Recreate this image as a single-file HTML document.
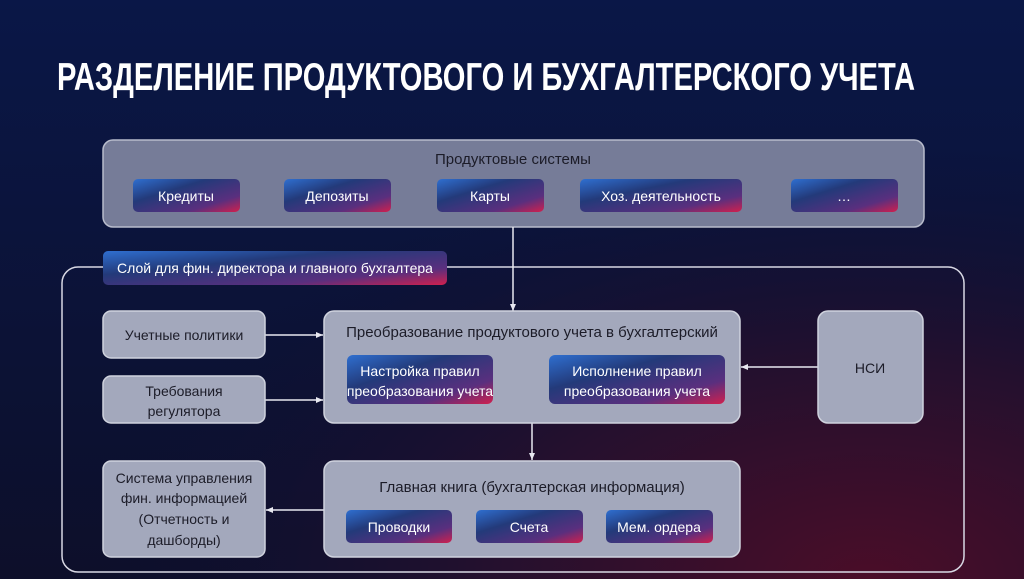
<!DOCTYPE html>
<html><head><meta charset="utf-8"><style>
html,body{margin:0;padding:0;width:1024px;height:579px;overflow:hidden;background:#0c1033}
svg{display:block}
text{font-family:"Liberation Sans","Noto Sans CJK SC",sans-serif}
</style></head><body>
<svg width="1024" height="579" viewBox="0 0 1024 579" xmlns="http://www.w3.org/2000/svg">
<defs>
<radialGradient id="bg1" cx="0.85" cy="1" r="0.75">
<stop offset="0" stop-color="#4a0d28"/><stop offset="0.5" stop-color="#24102e"/><stop offset="1" stop-color="#0c1033" stop-opacity="0"/>
</radialGradient>
<linearGradient id="bg0" x1="0" y1="0" x2="0" y2="1">
<stop offset="0" stop-color="#0a1747"/><stop offset="1" stop-color="#0d0f2a"/>
</linearGradient>
<linearGradient id="chip" x1="0" y1="0" x2="1" y2="1">
<stop offset="0" stop-color="#2f6fd0"/><stop offset="0.35" stop-color="#233a7a"/><stop offset="0.75" stop-color="#5a2f7e"/><stop offset="1" stop-color="#d0204e"/>
</linearGradient>
<marker id="ar" markerWidth="8" markerHeight="8" refX="7" refY="4" orient="auto" markerUnits="userSpaceOnUse">
<path d="M0,1 L7,4 L0,7 Z" fill="#e8e8f0"/></marker>
</defs>
<rect width="1024" height="579" fill="url(#bg0)"/>
<rect width="1024" height="579" fill="url(#bg1)"/>

<text x="57" y="90" font-size="39" font-weight="bold" fill="#fff" textLength="858" lengthAdjust="spacingAndGlyphs">РАЗДЕЛЕНИЕ ПРОДУКТОВОГО И БУХГАЛТЕРСКОГО УЧЕТА</text>

<rect x="62" y="267" width="902" height="305" rx="16" fill="none" stroke="#d8d8e4" stroke-width="1.5"/>

<rect x="103" y="140" width="821" height="87" rx="10" fill="#767c98" stroke="#b8bccc" stroke-width="1.5"/>
<text x="513" y="164" font-size="15" fill="#1c1c28" text-anchor="middle">Продуктовые системы</text>
<g font-size="14" fill="#fff" text-anchor="middle">
<rect x="133" y="179" width="107" height="33" rx="5" fill="url(#chip)"/><text x="186" y="201">Кредиты</text>
<rect x="284" y="179" width="107" height="33" rx="5" fill="url(#chip)"/><text x="337" y="201">Депозиты</text>
<rect x="437" y="179" width="107" height="33" rx="5" fill="url(#chip)"/><text x="490" y="201">Карты</text>
<rect x="580" y="179" width="162" height="33" rx="5" fill="url(#chip)"/><text x="661" y="201">Хоз. деятельность</text>
<rect x="791" y="179" width="107" height="33" rx="5" fill="url(#chip)"/><text x="844" y="201">…</text>
</g>

<rect x="103" y="251" width="344" height="34" rx="5" fill="url(#chip)"/>
<text x="275" y="273" font-size="14" fill="#fff" text-anchor="middle">Слой для фин. директора и главного бухгалтера</text>

<g stroke="#e8e8f0" stroke-width="1.5" fill="none" marker-end="url(#ar)">
<line x1="513" y1="227" x2="513" y2="311"/>
<line x1="265" y1="335" x2="323" y2="335"/>
<line x1="265" y1="400" x2="323" y2="400"/>
<line x1="818" y1="367" x2="741" y2="367"/>
<line x1="532" y1="423" x2="532" y2="460"/>
<line x1="324" y1="510" x2="266" y2="510"/>
</g>

<g fill="#a3a8bc" stroke="#d0d3de" stroke-width="1.5">
<rect x="103" y="311" width="162" height="47" rx="8"/>
<rect x="103" y="376" width="162" height="47" rx="8"/>
<rect x="103" y="461" width="162" height="96" rx="8"/>
<rect x="324" y="311" width="416" height="112" rx="10"/>
<rect x="324" y="461" width="416" height="96" rx="10"/>
<rect x="818" y="311" width="105" height="112" rx="10"/>
</g>
<g font-size="14" fill="#1c1c28" text-anchor="middle">
<text x="184" y="340">Учетные политики</text>
<text x="184" y="396">Требования</text>
<text x="184" y="416">регулятора</text>
<text x="184" y="483">Система управления</text>
<text x="184" y="503">фин. информацией</text>
<text x="184" y="524">(Отчетность и</text>
<text x="184" y="545">дашборды)</text>
<text x="870" y="373">НСИ</text>
</g>
<text x="532" y="337" font-size="15" fill="#1c1c28" text-anchor="middle">Преобразование продуктового учета в бухгалтерский</text>
<text x="532" y="492" font-size="15" fill="#1c1c28" text-anchor="middle">Главная книга (бухгалтерская информация)</text>

<g font-size="14" fill="#fff" text-anchor="middle">
<rect x="347" y="355" width="146" height="49" rx="6" fill="url(#chip)"/>
<text x="420" y="376">Настройка правил</text><text x="420" y="396">преобразования учета</text>
<rect x="549" y="355" width="176" height="49" rx="6" fill="url(#chip)"/>
<text x="637" y="376">Исполнение правил</text><text x="637" y="396">преобразования учета</text>
<rect x="346" y="510" width="106" height="33" rx="5" fill="url(#chip)"/><text x="399" y="532">Проводки</text>
<rect x="476" y="510" width="107" height="33" rx="5" fill="url(#chip)"/><text x="529" y="532">Счета</text>
<rect x="606" y="510" width="107" height="33" rx="5" fill="url(#chip)"/><text x="659" y="532">Мем. ордера</text>
</g>
</svg>
</body></html>
